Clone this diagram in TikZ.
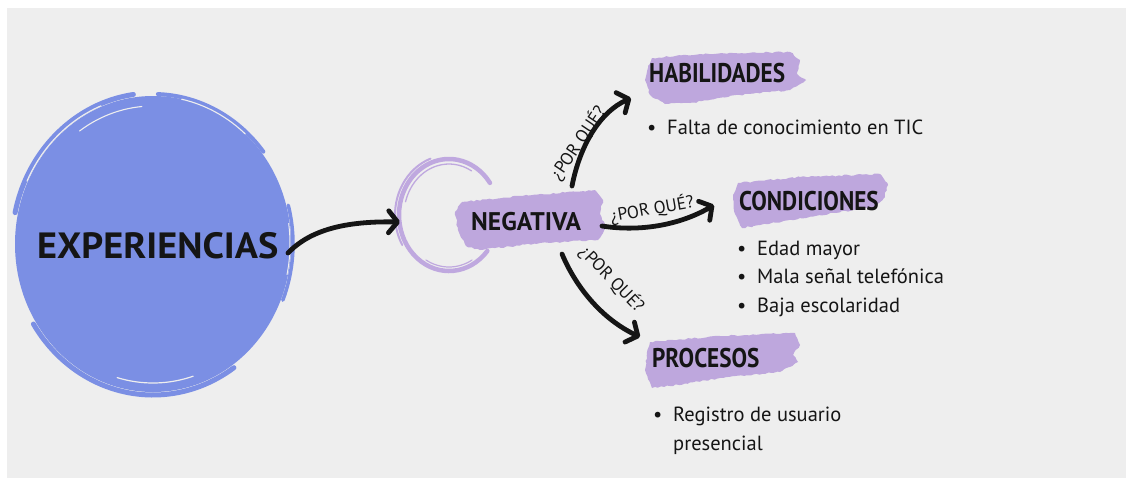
\documentclass[tikz,border=0pt]{standalone}
\usepackage{fontspec}
\setmainfont{PT Sans}
\newfontfamily\headfont[FakeStretch=0.86]{PT Sans}
\newfontfamily\bigfont[FakeStretch=1.05]{PT Sans}
\usetikzlibrary{arrows.meta,decorations.pathmorphing,calc}
\definecolor{paper}{HTML}{EEEEEE}
\definecolor{bluec}{HTML}{7B8FE4}
\definecolor{lil}{HTML}{BEA7DD}
\definecolor{lilring}{HTML}{BFA8DF}
\definecolor{ink}{HTML}{151515}
\newcommand\bul{\makebox[20pt][l]{•}}
\begin{document}
\begin{tikzpicture}[x=1pt,y=-1pt,
  brush/.style={fill=lil, decorate, decoration={random steps, segment length=3pt, amplitude=0.8pt}},
  head/.style={font=\headfont\bfseries\fontsize{27}{27}\selectfont, text=ink, inner sep=0pt, anchor=base west},
  body/.style={font=\fontsize{20.5}{28.5}\selectfont, text=ink, inner sep=0pt, anchor=base west, align=left},
  why/.style={font=\fontsize{17.5}{17.5}\selectfont, text=ink, inner sep=0pt},
  conn/.style={draw=ink, line width=4.8pt, line cap=round,
    -{Straight Barb[length=9pt,width=22pt,round]}},
  ringarc/.style={draw=lilring, line cap=round}
]
\useasboundingbox (0,0) rectangle (1131,483);
% background
\fill[white] (0,0) rectangle (1131,483);
\fill[paper] (7,8) rectangle (1126,478);

% big blue circle
\coordinate (C) at (153,244);
\fill[bluec] (C) ellipse [x radius=138, y radius=148];
\draw[bluec, line width=5pt, line cap=round] ($(C)+(192:141 and 151)$) arc[start angle=192, end angle=262, x radius=141, y radius=151];
\draw[bluec, line width=4pt, line cap=round] ($(C)+(272:140 and 150)$) arc[start angle=272, end angle=322, x radius=140, y radius=150];
\draw[bluec, line width=3.5pt, line cap=round] ($(C)+(345:140 and 150)$) arc[start angle=345, end angle=382, x radius=140, y radius=150];
\draw[bluec, line width=5pt, line cap=round] ($(C)+(55:141 and 151)$) arc[start angle=55, end angle=148, x radius=141, y radius=151];
\draw[paper, line width=1.1pt, line cap=round] ($(C)+(205:139 and 149)$) arc[start angle=205, end angle=248, x radius=139, y radius=149];
\draw[paper, line width=1.1pt, line cap=round] ($(C)+(282:138 and 148)$) arc[start angle=282, end angle=312, x radius=138, y radius=148];
\draw[paper, line width=1.1pt, line cap=round] ($(C)+(235:128 and 138)$) arc[start angle=235, end angle=265, x radius=128, y radius=138];
\draw[paper, line width=1.2pt, line cap=round] ($(C)+(72:130 and 139)$) arc[start angle=72, end angle=106, x radius=130, y radius=139];
\draw[paper, line width=1pt, line cap=round] ($(C)+(352:137 and 147)$) arc[start angle=352, end angle=372, x radius=137, y radius=147];

% lilac ring
\coordinate (R) at (449,215);
\draw[ringarc, line width=4.5pt] ($(R)+(40:50 and 56)$) arc[start angle=40, end angle=325, x radius=50, y radius=56];
\draw[ringarc, line width=1.3pt] ($(R)+(195:45 and 51)$) arc[start angle=195, end angle=300, x radius=45, y radius=51];
\draw[ringarc, line width=2pt] ($(R)+(150:54 and 60)$) arc[start angle=150, end angle=250, x radius=54, y radius=60];
\draw[ringarc, line width=1.2pt] ($(R)+(60:46 and 52)$) arc[start angle=60, end angle=120, x radius=46, y radius=52];
\coordinate (ringW) at (400,222);

% brushes
\path[brush] (462,202) -- (520,196) -- (595,190) -- (603,200) -- (600,214) -- (606,228) -- (598,240) -- (540,243) -- (480,250) -- (466,246) -- (458,230) -- (455,212) -- cycle;
\path[brush] (652,58) -- (700,54) -- (790,52) -- (800,60) -- (797,74) -- (806,80) -- (790,90) -- (740,95) -- (690,103) -- (665,104) -- (650,95) -- (645,80) -- (648,66) -- cycle;
\path[brush] (738,183) -- (800,177) -- (880,174) -- (888,185) -- (884,198) -- (875,207) -- (820,215) -- (760,225) -- (742,228) -- (735,214) -- (733,195) -- cycle;
\path[brush] (650,342) -- (720,336) -- (795,333) -- (800,345) -- (793,355) -- (798,362) -- (780,372) -- (720,378) -- (670,386) -- (652,388) -- (645,370) -- (647,352) -- cycle;

% texts
\node[font=\bigfont\bfseries\fontsize{36.5}{36.5}\selectfont, text=ink, inner sep=0pt, anchor=base west] (exp) at (37,258) {EXPERIENCIAS};
\node[head, font=\bfseries\fontsize{25.5}{25.5}\selectfont] (neg) at (471,230) {NEGATIVA};
\node[head] (hab) at (649,82) {HABILIDADES};
\node[head] (cond) at (739,210) {CONDICIONES};
\node[head] (proc) at (652,367) {PROCESOS};

\node[body] (habl) at (647,134) {\bul Falta de conocimiento en TIC};
\node[body] (condl) at (737,312) {\bul Edad mayor\\\bul Mala señal telefónica\\\bul Baja escolaridad};
\node[body] (procl) at (653,450) {\bul Registro de usuario\\\makebox[20pt]{}presencial};

% connectors
\coordinate (e1) at (288,253);
\coordinate (n1) at (572,186);
\coordinate (n2) at (602,226);
\coordinate (n3) at (562,254);
\coordinate (habT) at (631,98);
\coordinate (condT) at (714,205);
\coordinate (procT) at (640,337);
\draw[conn] (e1) .. controls (310,230) and (345,221) .. (ringW);
\draw[conn] (n1) .. controls (580,145) and (600,112) .. (habT);
\draw[conn] (n2) .. controls (640,232) and (680,225) .. (condT);
\draw[conn] (n3) .. controls (575,285) and (600,318) .. (procT);

\node[why, rotate=56] (w1) at (578,143) {¿POR QUÉ?};
\node[why, rotate=10] (w2) at (652,209) {¿POR QUÉ?};
\node[why, rotate=-46] (w3) at (612,279) {¿POR QUÉ?};
\end{tikzpicture}
\end{document}
